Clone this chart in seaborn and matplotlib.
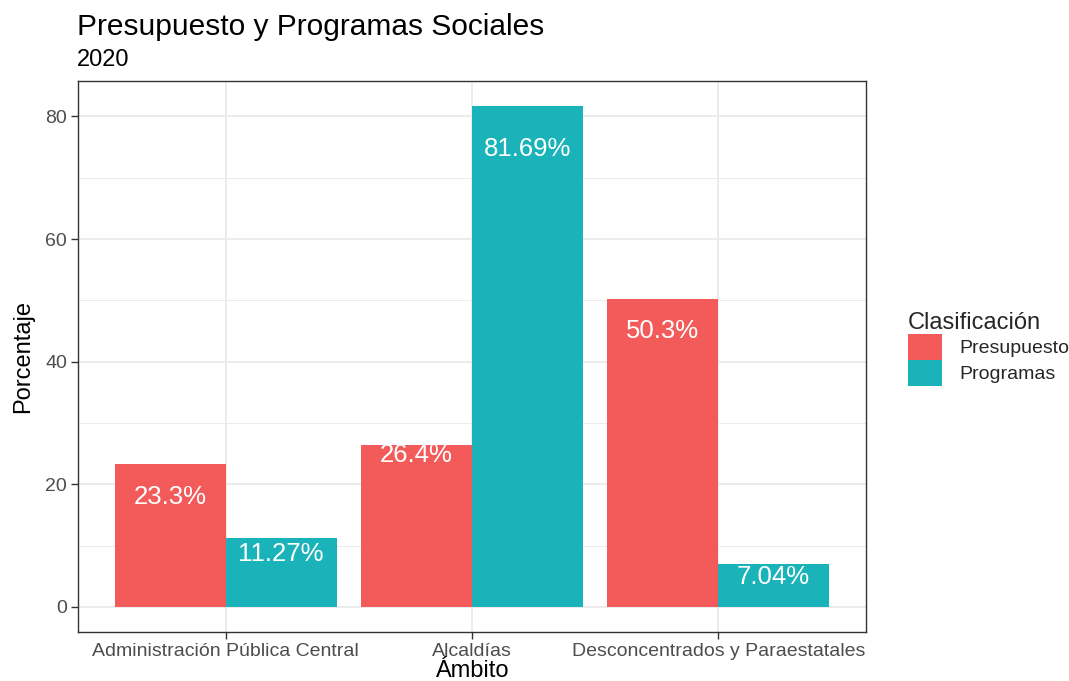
import matplotlib
matplotlib.use("Agg")
import matplotlib.pyplot as plt
import seaborn as sns
import pandas as pd
from matplotlib.patches import Patch

# ---- data ----
ambitos = ["Administración Pública Central", "Alcaldías", "Desconcentrados y Paraestatales"]
clasificaciones = ["Presupuesto", "Programas"]
presupuesto = [23.3, 26.4, 50.3]
programas = [11.27, 81.69, 7.04]
etiquetas_presupuesto = ["23.3%", "26.4%", "50.3%"]
etiquetas_programas = ["11.27%", "81.69%", "7.04%"]

# ---- style (label offsets below bar tops, in data units) ----
offsets_presupuesto = [5.4, 1.6, 5.3]
offsets_programas = [2.6, 7.0, 2.1]
colores = {"Presupuesto": "#F35B5A", "Programas": "#19B3B9"}

df = pd.DataFrame({
    "Ámbito": ambitos * 2,
    "Porcentaje": presupuesto + programas,
    "Clasificación": ["Presupuesto"] * 3 + ["Programas"] * 3,
})

sns.set_theme(style="white")
plt.rcParams["font.family"] = ["Liberation Sans", "DejaVu Sans"]

fig = plt.figure(figsize=(10.69, 6.81), dpi=100)
ax = fig.add_axes([78 / 1069, 1 - 632 / 681, (866 - 78) / 1069, (632 - 81) / 681])

sns.barplot(data=df, x="Ámbito", y="Porcentaje", hue="Clasificación",
            order=ambitos, hue_order=clasificaciones, palette=colores,
            width=0.9, saturation=1, gap=0, dodge=True, ax=ax,
            legend=False, zorder=3, linewidth=0)

# labels
for cont, labs, offs, vals in zip(ax.containers,
                                   [etiquetas_presupuesto, etiquetas_programas],
                                   [offsets_presupuesto, offsets_programas],
                                   [presupuesto, programas]):
    for patch, lab, off, v in zip(cont.patches, labs, offs, vals):
        xc = patch.get_x() + patch.get_width() / 2
        ax.text(xc, v - off, lab, ha="center", va="center", color="white",
                fontsize=18.5, zorder=4)

ax.set_xlim(-0.6, 2.6)
ax.set_ylim(-4.08, 85.77)
ax.set_yticks([0, 20, 40, 60, 80])
ax.set_yticks([10, 30, 50, 70], minor=True)

# grid
ax.grid(True, which="major", color="#EBEBEB", linewidth=1.3, zorder=0)
ax.grid(True, which="minor", axis="y", color="#EBEBEB", linewidth=0.7, zorder=0)
ax.set_axisbelow(True)

for s in ax.spines.values():
    s.set_color("#333333")
    s.set_linewidth(1.0)

ax.tick_params(axis="both", which="major", length=5, width=1, color="#333333",
               labelcolor="#4D4D4D", labelsize=14, pad=3,
               bottom=True, left=True)
ax.tick_params(axis="both", which="minor", length=0)

ax.set_xlabel("Ámbito", fontsize=17, color="black", labelpad=0)
ax.set_ylabel("Porcentaje", fontsize=17, color="black", labelpad=8)

fig.text(77 / 1069, 1 - 27 / 681, "Presupuesto y Programas Sociales",
         fontsize=21.5, color="black", ha="left", va="center")
fig.text(77 / 1069, 1 - 60 / 681, "2020", fontsize=17, color="black",
         ha="left", va="center")

handles = [Patch(facecolor=colores[c], edgecolor="none", label=c) for c in clasificaciones]
leg = fig.legend(handles=handles, title="Clasificación", loc="upper left",
                 bbox_to_anchor=(900 / 1069, 1 - 304 / 681), frameon=False,
                 fontsize=14, title_fontsize=17, handlelength=1.75,
                 handleheight=1.7, labelspacing=0.0, handletextpad=0.9,
                 borderaxespad=0)
leg._legend_box.align = "left"

fig.savefig("out.png", dpi=100)
